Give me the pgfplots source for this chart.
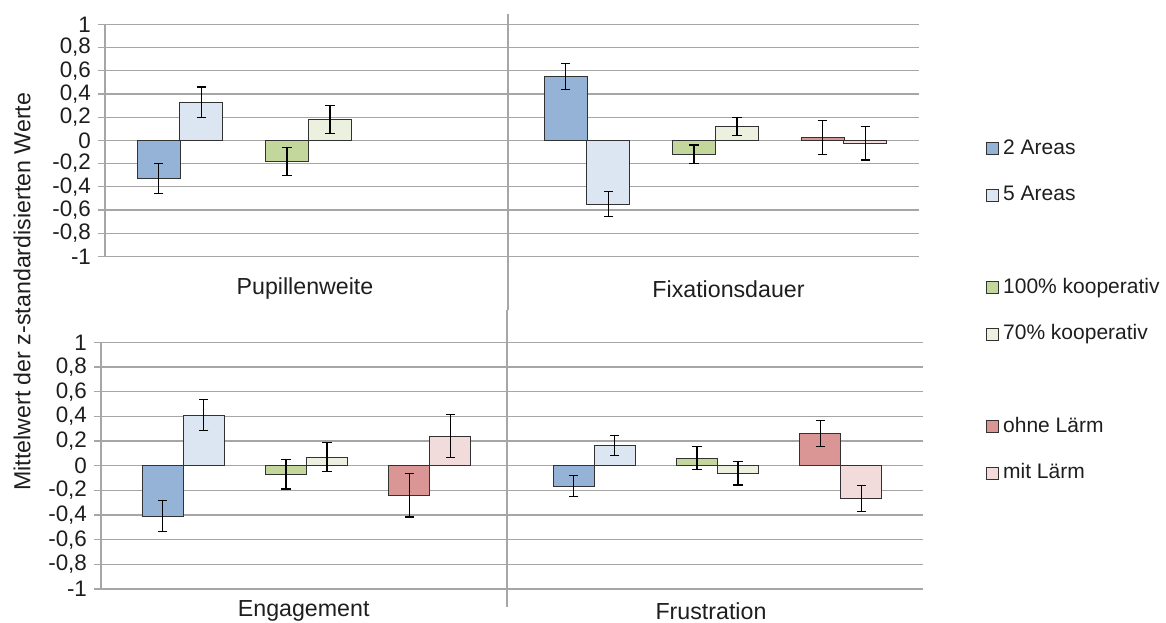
\documentclass[border=0pt]{standalone}
\usepackage{pgfplots}
\pgfplotsset{compat=1.18}
\usepackage{fontspec}
\setmainfont{Liberation Sans}

\definecolor{gridgray}{RGB}{166,166,166}
\definecolor{edge}{RGB}{50,50,50}
\definecolor{txt}{RGB}{30,30,30}
\definecolor{areasA}{RGB}{149,179,215}
\definecolor{areasB}{RGB}{220,230,242}
\definecolor{koopA}{RGB}{195,214,155}
\definecolor{koopB}{RGB}{235,241,222}
\definecolor{laermA}{RGB}{217,150,148}
\definecolor{laermB}{RGB}{242,220,219}

\pgfplotsset{
  panel/.style={
    scale only axis,
    xmin=0, xmax=2, ymin=-1, ymax=1,
    axis x line=none,
    axis y line*=left,
    y axis line style={gridgray, line width=0.6pt, -},
    xtick=\empty,
    ytick={-1,-0.8,-0.6,-0.4,-0.2,0,0.2,0.4,0.6,0.8,1},
    ymajorgrids,
    grid style={gridgray, line width=0.6pt},
    tick align=outside,
    major tick length=3.5pt,
    ytick style={gridgray, line width=0.6pt},
    yticklabel style={font=\fontsize{11.2}{13}\selectfont, text=txt,
      /pgf/number format/.cd, use comma, fixed, precision=1, assume math mode=true},
    clip=false,
    ybar, bar shift=0pt,
    every axis plot/.append style={draw=edge, line width=0.5pt},
    error bars/y dir=both,
    error bars/y explicit,
    error bars/error bar style={black, line width=0.6pt},
    error bars/error mark options={black, line width=0.6pt, mark size=2.3pt, rotate=90},
    legend image code/.code={\draw[#1] (0pt,-3pt) rectangle (6pt,3pt);},
  },
}

\begin{document}
\begin{tikzpicture}[x=0.5pt, y=0.5pt]
\useasboundingbox (0,0) rectangle (1166,622);

% upper row: Pupillenweite | Fixationsdauer
\begin{axis}[panel, at={(52.5pt,182.85pt)}, anchor=south west,
    width=407pt, height=116pt, bar width=0.1055,
    legend style={draw=none, fill=none, inner sep=0pt, outer sep=0pt,
      at={(1.082,0.508)}, anchor=north west,
      font=\fontsize{10.5}{12}\selectfont, text=txt,
      nodes={inner sep=0pt, text height=8pt, text depth=2.5pt},
      row sep=12.65pt, column sep=2.2pt},
    legend cell align=left]
\addplot[fill=areasA] coordinates {(0.132,-0.33) +- (0,0.13) (1.132,0.55) +- (0,0.11)};
\addlegendentry{2 Areas}
\addplot[fill=areasB] coordinates {(0.237,0.33) +- (0,0.13) (1.237,-0.55) +- (0,0.11)};
\addlegendentry{5 Areas}
\addlegendimage{empty legend}\addlegendentry{}
\addplot[fill=koopA] coordinates {(0.447,-0.18) +- (0,0.12) (1.447,-0.12) +- (0,0.08)};
\addlegendentry{100\% kooperativ}
\addplot[fill=koopB] coordinates {(0.553,0.18) +- (0,0.12) (1.553,0.12) +- (0,0.08)};
\addlegendentry{70\% kooperativ}
\addlegendimage{empty legend}\addlegendentry{}
\addplot[fill=laermA] coordinates {(1.763,0.025) +- (0,0.145)};
\addlegendentry{ohne Lärm}
\addplot[fill=laermB] coordinates {(1.868,-0.025) +- (0,0.145)};
\addlegendentry{mit Lärm}
\end{axis}

% lower row: Engagement | Frustration
\begin{axis}[panel, at={(50.5pt,16.5pt)}, anchor=south west,
    width=411pt, height=123.35pt, bar width=0.1]
\addplot[fill=areasA] coordinates {(0.15,-0.41) +- (0,0.125) (1.15,-0.165) +- (0,0.082)};
\addplot[fill=areasB] coordinates {(0.25,0.41) +- (0,0.127) (1.25,0.165) +- (0,0.082)};
\addplot[fill=koopA] coordinates {(0.45,-0.07) +- (0,0.12) (1.45,0.06) +- (0,0.093)};
\addplot[fill=koopB] coordinates {(0.55,0.07) +- (0,0.12) (1.55,-0.062) +- (0,0.095)};
\addplot[fill=laermA] coordinates {(0.75,-0.24) +- (0,0.177) (1.75,0.263) +- (0,0.105)};
\addplot[fill=laermB] coordinates {(0.85,0.238) +- (0,0.175) (1.85,-0.264) +- (0,0.105)};
\end{axis}

% separators between the two columns
\draw[gridgray, line width=0.6pt] (508,608) -- (508,312);
\draw[gridgray, line width=0.6pt] (507,312) -- (507,15.3);

% category names
\begin{scope}[every node/.style={font=\fontsize{11.6}{14}\selectfont, text=txt}]
\node at (305,333) {Pupillenweite};
\node at (728.5,333) {Fixationsdauer};
\node at (303.7,11) {Engagement};
\node at (711,11) {Frustration};
\node[rotate=90] at (22,330.3) {Mittelwert der z-standardisierten Werte};
\end{scope}
\end{tikzpicture}
\end{document}
